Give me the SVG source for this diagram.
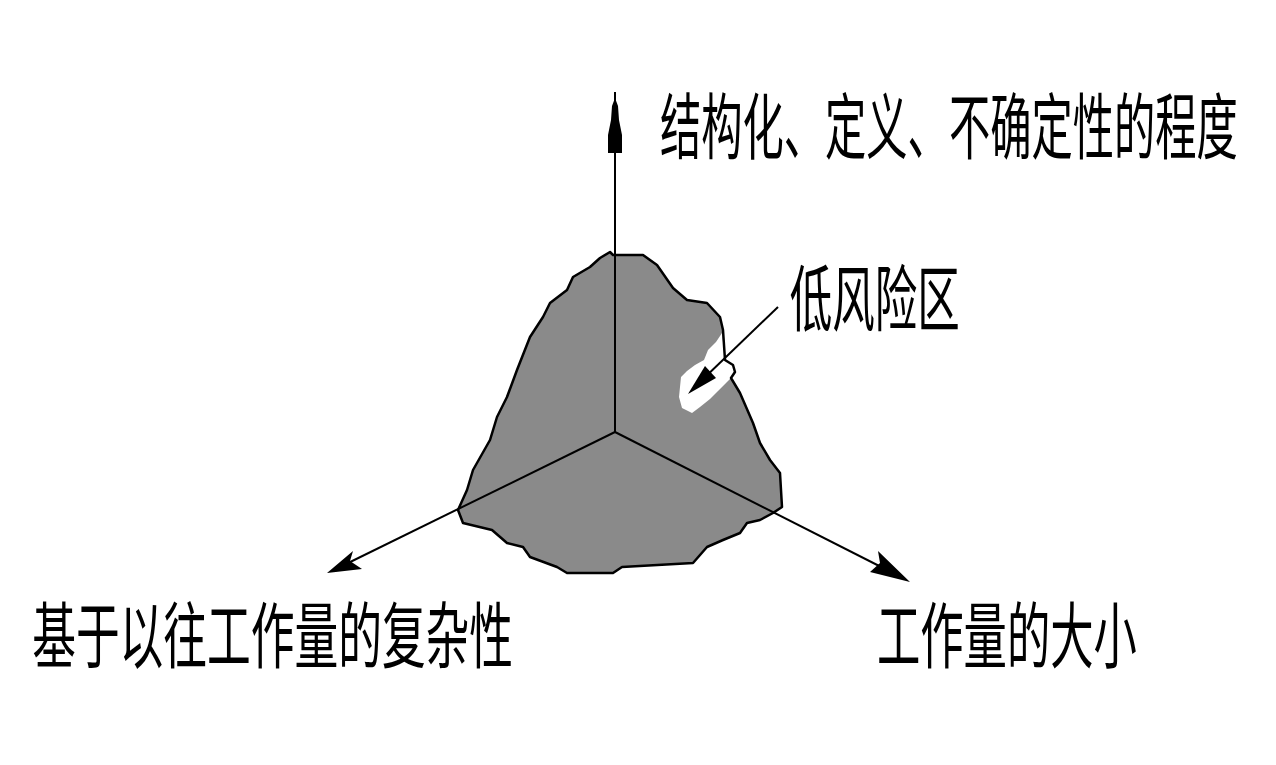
<svg xmlns="http://www.w3.org/2000/svg" width="1276" height="765" viewBox="0 0 1276 765">
<style>
.lbl{font-family:"Noto Sans CJK SC","Liberation Serif",serif;font-size:72px;fill:#000}
.ax{stroke:#000;stroke-width:2;fill:none}
.head{fill:#000;stroke:none}
</style>
<rect width="1276" height="765" fill="#fff"/>
<g id="blob">
<path id="blob-fill" d="M610,252 L613,255 L643,255 L657,265 L673,288 L687,300 L707,303 L720,317 L723,330 L725,360 L733,365 L735,372 L731,378 L740,393 L753,423 L760,443 L770,460 L780,473 L782,507 L773,513 L760,520 L747,523 L740,533 L723,540 L707,547 L693,563 L622,567 L613,573 L567,573 L557,567 L530,557 L523,547 L507,543 L492,530 L463,523 L458,510 L467,490 L473,470 L490,440 L497,417 L507,397 L517,370 L530,337 L543,317 L550,303 L567,290 L573,277 L590,267 L600,258 Z" fill="#8a8a8a" stroke="none"/>
<path id="notch" d="M722,333 L716,342 L708,350 L704,360 L695,365 L687,371 L681,377 L679,397 L682,408 L692,413 L700,407 L710,399 L718,391 L727,382 L731,378 L735,372 L733,365 L725,360 Z" fill="#fff"/>
<path id="blob-outline" d="M610,252 L613,255 L643,255 L657,265 L673,288 L687,300 L707,303 L720,317 L723,330 L725,360 L733,365 L735,372 L731,378 L740,393 L753,423 L760,443 L770,460 L780,473 L782,507 L773,513 L760,520 L747,523 L740,533 L723,540 L707,547 L693,563 L622,567 L613,573 L567,573 L557,567 L530,557 L523,547 L507,543 L492,530 L463,523 L458,510 L467,490 L473,470 L490,440 L497,417 L507,397 L517,370 L530,337 L543,317 L550,303 L567,290 L573,277 L590,267 L600,258 Z" fill="none" stroke="#000" stroke-width="2.5" stroke-linejoin="round"/>
</g>
<g id="connectors">
<line class="ax" x1="615" y1="92" x2="615" y2="432"/>
<polygon class="head" points="615,98 618,106 619,120 622,135 622,153 608,153 608,135 611,120 612,106"/>
<line class="ax" x1="615" y1="432" x2="340" y2="567"/>
<polygon class="head" points="327,573 353,551 350,561 362,569"/>
<line class="ax" x1="615" y1="432" x2="895" y2="574"/>
<polygon class="head" points="910,582 878,551 880,563 870,572"/>
<line class="ax" x1="778" y1="307" x2="700" y2="382"/>
<polygon class="head" points="688,394 705,366 716,378"/>
</g>
<g id="label-y"><text class="lbl" transform="scale(0.5734,1)" x="1151" y="153">结构化、定义、不确定性的程度</text></g>
<g id="label-low"><text class="lbl" transform="scale(0.5903,1)" x="1338" y="325">低风险区</text></g>
<g id="label-left"><text class="lbl" transform="scale(0.6073,1)" x="53" y="662">基于以往工作量的复杂性</text></g>
<g id="label-right"><text class="lbl" transform="scale(0.6019,1)" x="1457" y="662">工作量的大小</text></g>
</svg>
